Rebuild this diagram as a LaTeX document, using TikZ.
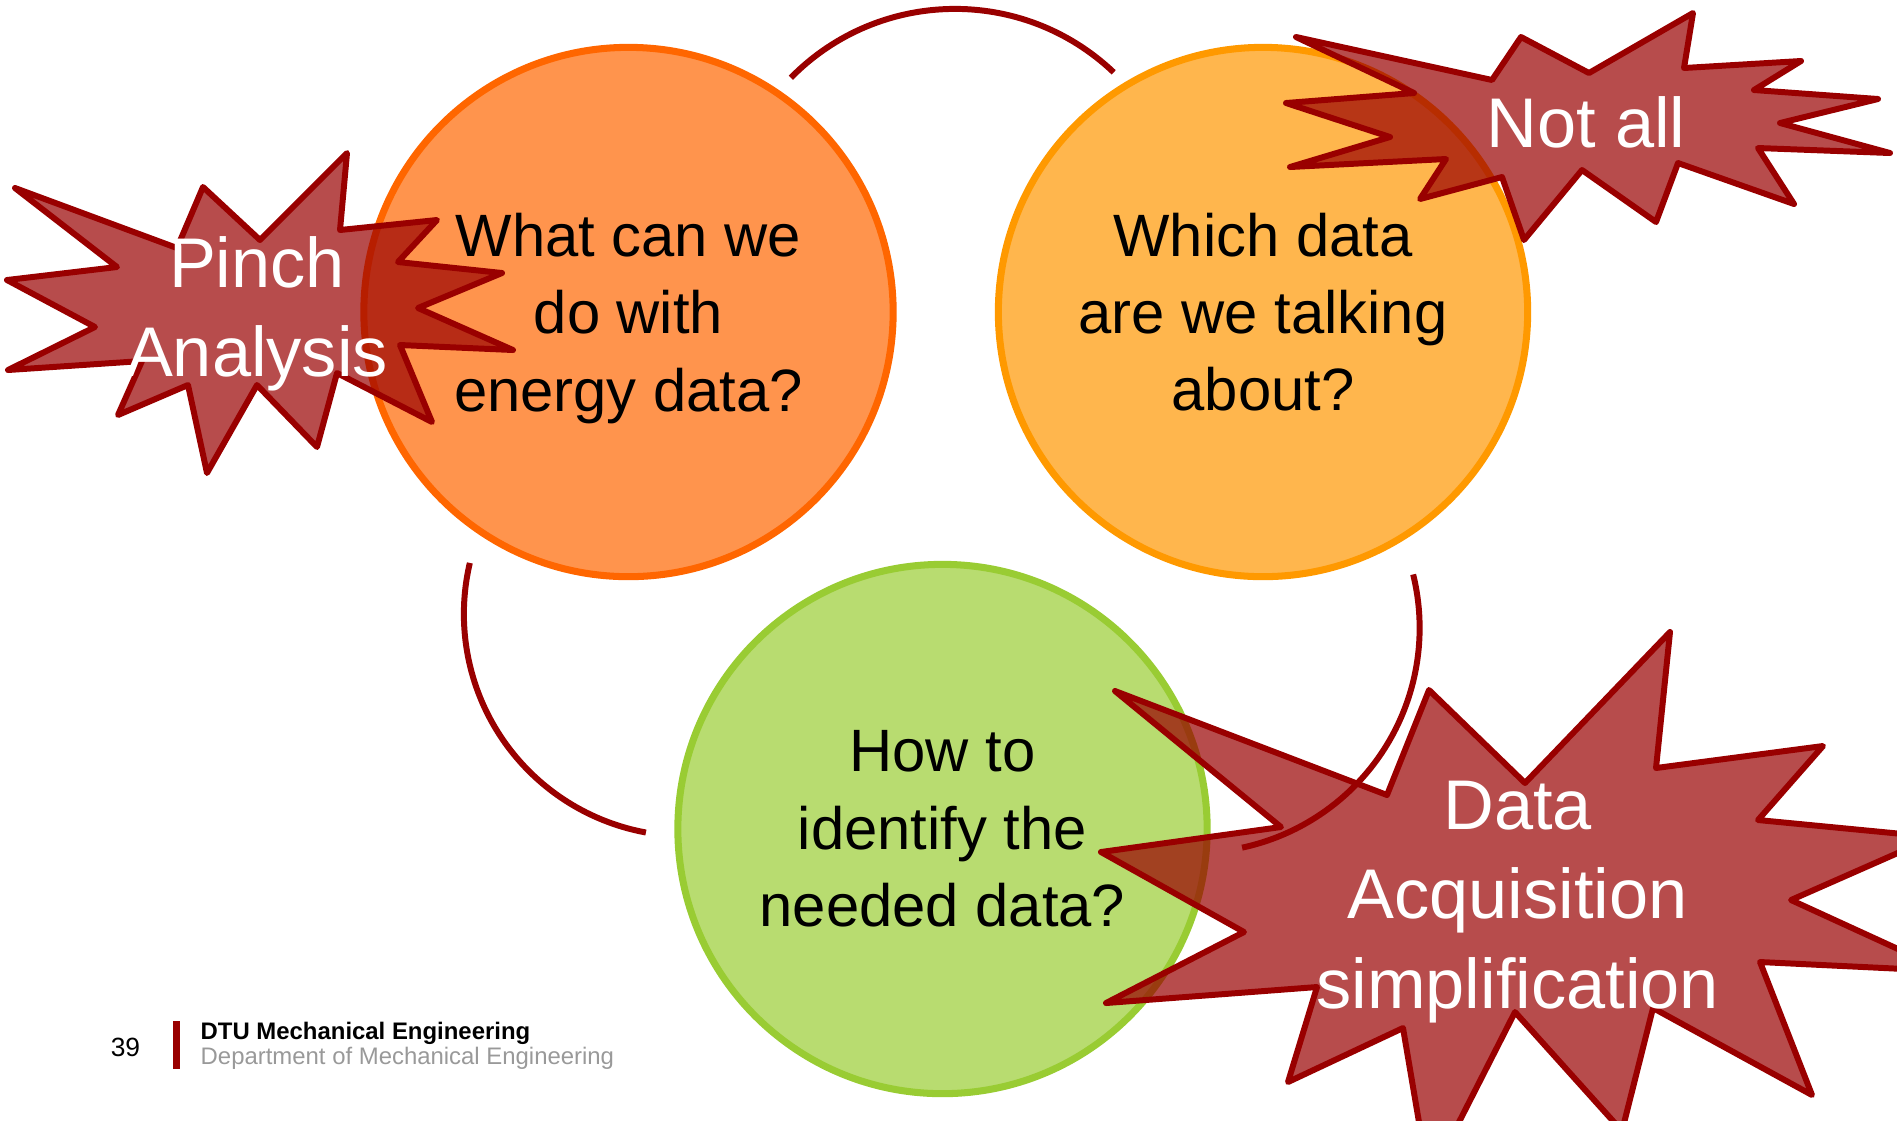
\documentclass[tikz,border=0pt]{standalone}
\usepackage{fontspec}
\setmainfont{Liberation Sans}
\usepackage{tikz}
\definecolor{dtured}{HTML}{990000}
\definecolor{dtugray}{HTML}{999999}
\definecolor{qorange}{HTML}{FF944D}
\definecolor{qorangeline}{HTML}{FF6600}
\definecolor{qamber}{HTML}{FFB64D}
\definecolor{qamberline}{HTML}{FF9900}
\definecolor{qgreen}{HTML}{B8DC70}
\definecolor{qgreenline}{HTML}{99CC33}
\tikzset{
  qcircle/.style={circle, line width=2pt, minimum size=5.29cm, inner sep=0pt,
    align=center, font=\fontsize{17}{22}\selectfont},
  burst/.style={draw=dtured, fill=dtured, fill opacity=0.7,
    line width=1.7pt, line join=round},
  bursttext/.style={text=white, align=center, inner sep=0pt,
    font=\fontsize{20}{25.4}\selectfont},
  cycarc/.style={draw=dtured, line width=1.7pt},
}

\begin{document}
\begin{tikzpicture}[x=0.01cm, y=-0.01cm]
  \useasboundingbox (0,0) rectangle (1897,1120);
  \clip (0,0) rectangle (1897,1120);

  % Questions
  \node[qcircle, fill=qorange, draw=qorangeline] (c1) at (628.5,312)
    {What can we\\do with\\\smash{energy data?}};
  \node[qcircle, fill=qamber, draw=qamberline] (c2) at (1263,312)
    {Which data\\are we talking\\about?};
  \node[qcircle, fill=qgreen, draw=qgreenline] (c3) at (942.5,829)
    {How to\\identify the\\needed data?};

  % Cycle arcs
  \coordinate (a12) at (955,239);
  \coordinate (a31) at (686,614);
  \coordinate (a23) at (1195,628);
  \draw[cycarc] (a12) ++(135.5:2.3cm) arc[start angle=135.5, end angle=46.4, radius=2.3cm];
  \draw[cycarc] (a23) ++(13.8:2.245cm) arc[start angle=13.8, end angle=-77.9, radius=2.245cm];
  \draw[cycarc] (a31) ++(166.7:2.22cm) arc[start angle=166.7, end angle=259.6, radius=2.22cm];

  % Bursts
  \draw[burst] (15,188) -- (177,248) -- (203,187) -- (260,240) -- (347,153)
    -- (340,230) -- (437,220) -- (398,262) -- (502,273) -- (418,308)
    -- (513,350) -- (400,345) -- (432,422) -- (337,373) -- (317,447)
    -- (257,385) -- (207,473) -- (188,385) -- (118,415) -- (142,361)
    -- (8,370) -- (95,327) -- (7,280) -- (117,267) -- cycle;
  \draw[burst] (1296,37) -- (1492,80) -- (1521,37) -- (1589,73) -- (1693,13)
    -- (1684,68) -- (1801,61) -- (1754,90) -- (1878,99) -- (1780,123)
    -- (1890,153) -- (1758,148) -- (1794,204) -- (1678,163) -- (1656,222)
    -- (1582,170) -- (1524,240) -- (1502,177) -- (1420,199) -- (1446,159)
    -- (1290,167) -- (1390,137) -- (1286,103) -- (1414,93) -- cycle;
  \draw[burst] (1115,691) -- (1387,795) -- (1429,690) -- (1525,783) -- (1670,632)
    -- (1656,768) -- (1823,746) -- (1758,820) -- (1934,837) -- (1791,900)
    -- (1946,971) -- (1760,962) -- (1812,1095) -- (1653,1008) -- (1622,1131)
    -- (1515,1012) -- (1429,1181) -- (1403,1028) -- (1288,1082) -- (1317,987)
    -- (1106,1003) -- (1244,932) -- (1101,852) -- (1281,827) -- cycle;

  \node[bursttext] (pinch) at (257,314) {Pinch\\Analysis};
  \node[bursttext] (notall) at (1586,122) {Not all};
  \node[bursttext] (daq) at (1517.6,902) {Data\\Acquisition\\simplification};

  % Footer
  \node[font=\fontsize{7.5}{9}\selectfont] (page) at (125.5,1047) {39};
  \fill[dtured] (173,1021) rectangle (180,1069);
  \node[anchor=base west, inner sep=0pt, font=\bfseries\fontsize{6.8}{8}\selectfont]
    (dtu) at (200,1039) {DTU Mechanical Engineering};
  \node[anchor=base west, inner sep=0pt, text=dtugray, font=\fontsize{6.8}{8}\selectfont]
    (dept) at ([yshift=-0.25cm]dtu.base west) {Department of Mechanical Engineering};
\end{tikzpicture}
\end{document}
